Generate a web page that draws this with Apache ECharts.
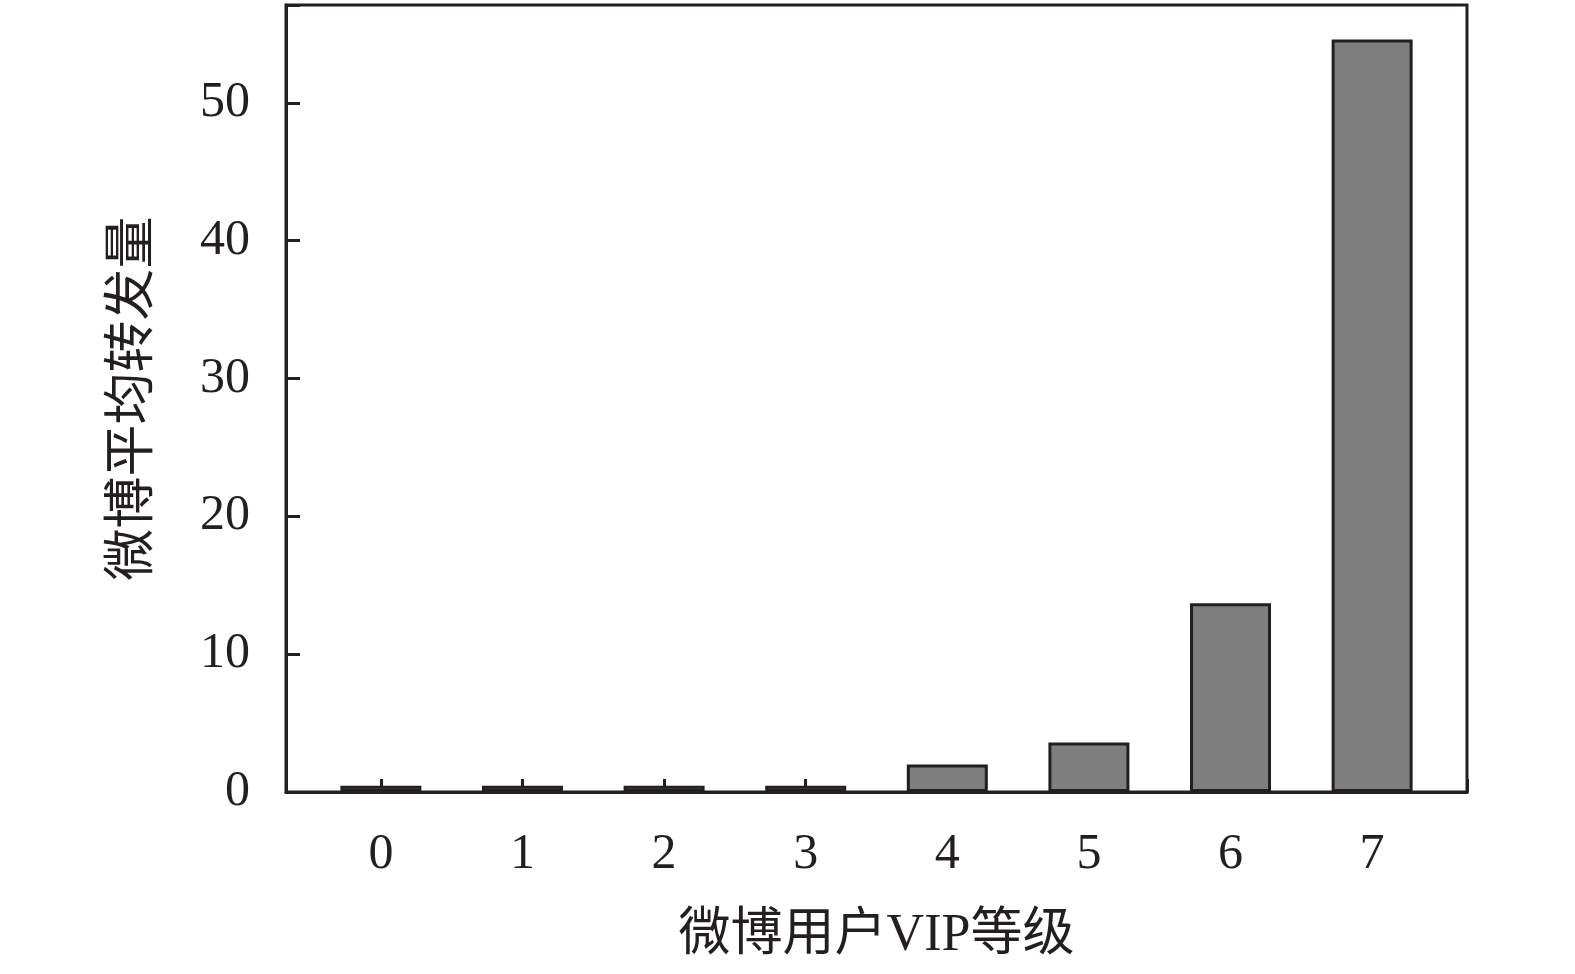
<!DOCTYPE html>
<html>
<head>
<meta charset="utf-8">
<script src="https://cdn.jsdelivr.net/npm/echarts@6/dist/echarts.min.js"></script>
<style>
html,body{margin:0;padding:0;background:#fff;}
#chart{width:1575px;height:974px;}
</style>
</head>
<body>
<div id="chart"></div>
<script>
const categories = [0, 1, 2, 3, 4, 5, 6, 7];
const values = [0.45, 0.45, 0.45, 0.45, 2.0, 3.6, 13.7, 54.6];
const yTicks = [0, 10, 20, 30, 40, 50];
const xTitle = '微博用户VIP等级';
const yTitle = '微博平均转发量';

const FONT = '"Liberation Serif", "Times New Roman", "Noto Sans CJK SC", serif';
const INK = '#231f20';

const chart = echarts.init(document.getElementById('chart'));
chart.setOption({
  animation: false,
  backgroundColor: '#fff',
  grid: {
    left: 286, right: 108, top: 5, bottom: 182,
    show: true, borderColor: INK, borderWidth: 3, backgroundColor: 'transparent'
  },
  xAxis: {
    type: 'value',
    min: -0.67, max: 7.67,
    minInterval: 1, maxInterval: 1, splitNumber: 8,
    name: xTitle,
    nameLocation: 'middle',
    nameGap: 118,
    nameTextStyle: { fontFamily: FONT, fontSize: 52, color: INK },
    axisLine: { show: true, onZero: false, lineStyle: { color: INK, width: 3 } },
    axisTick: { show: true, inside: true, length: 13, lineStyle: { color: INK, width: 3 } },
    axisLabel: {
      margin: 38, fontFamily: FONT, fontSize: 50, color: INK,
      formatter: v => (categories.indexOf(Math.round(v * 1000) / 1000) >= 0 ? String(v) : '')
    },
    splitLine: { show: false }
  },
  yAxis: {
    type: 'value',
    min: 0, max: 57.1,
    interval: 10,
    name: yTitle,
    nameLocation: 'middle',
    nameGap: 126,
    nameRotate: 90,
    nameTextStyle: { fontFamily: FONT, fontSize: 52, color: INK },
    axisLine: { show: true, onZero: false, lineStyle: { color: INK, width: 3 } },
    axisTick: { show: true, inside: true, length: 14, lineStyle: { color: INK, width: 3 } },
    axisLabel: {
      margin: 36, fontFamily: FONT, fontSize: 50, color: INK,
      formatter: v => (yTicks.indexOf(v) >= 0 ? String(v) : '')
    },
    splitLine: { show: false }
  },
  series: [{
    type: 'bar',
    barWidth: 81,
    data: categories.map((c, i) => [c, values[i]]),
    itemStyle: { color: '#7f7e7f', borderColor: INK, borderWidth: 3 },
    z: 1
  }]
});
</script>
</body>
</html>
